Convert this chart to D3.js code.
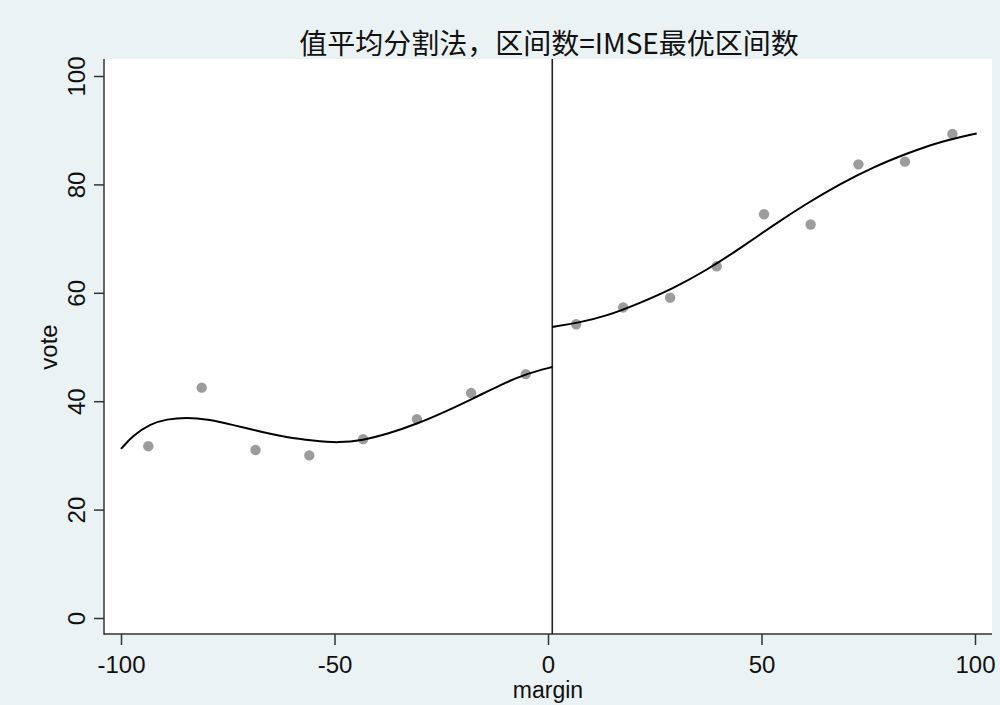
<!DOCTYPE html>
<html>
<head>
<meta charset="utf-8">
<script src="https://cdn.jsdelivr.net/npm/d3@7"></script>
<style>
  body { margin: 0; background: #eaf2f3; }
  svg { display: block; }
</style>
</head>
<body>
<div id="chart"><svg></svg></div>
<script>
const width = 1000;
const height = 705;

// chart values
const title = "值平均分割法，区间数=IMSE最优区间数";
const xLabel = "margin";
const yLabel = "vote";
const xTicks = [-100, -50, 0, 50, 100];
const yTicks = [0, 20, 40, 60, 80, 100];
const cutoff = 1;

const leftBinX = [-93.6, -81.1, -68.5, -55.9, -43.3, -30.7, -18.0, -5.2];
const leftBinY = [31.7, 42.5, 31.0, 30.0, 33.0, 36.7, 41.5, 45.0];
const rightBinX = [6.6, 17.6, 28.6, 39.5, 50.6, 61.5, 72.7, 83.6, 94.7];
const rightBinY = [54.2, 57.3, 59.1, 64.9, 74.5, 72.6, 83.7, 84.2, 89.3];

const leftFitX = [-100, -97.3, -93.2, -89.3, -84.6, -79.9, -73.7, -67.4, -61.2, -55, -49, -43.3, -37.8, -30.7, -23.7, -17.5, -11.2, -5, 1];
const leftFitY = [31.2, 33.6, 35.8, 36.7, 37.0, 36.7, 35.6, 34.4, 33.3, 32.7, 32.3, 32.8, 33.9, 35.8, 38.2, 40.5, 43.0, 45.1, 46.3];
const rightFitX = [1, 6.7, 13.7, 21.5, 29.3, 37.2, 45, 52.8, 60.6, 68.4, 76.2, 84, 91.8, 100.4];
const rightFitY = [53.7, 54.4, 55.7, 58.1, 60.8, 64.2, 68.2, 72.5, 76.5, 80.1, 83.2, 85.7, 87.9, 89.4];

// plot region
const plot = {left: 104, right: 992, top: 59, bottom: 634};

let svg = d3.select("#chart").select("svg")
  .attr("width", width)
  .attr("height", height)
  .style("font-family", "'Liberation Sans', Arial, sans-serif");

svg.append("rect")
  .attr("width", width).attr("height", height)
  .attr("fill", "#eaf2f3");

svg.append("rect")
  .attr("x", plot.left).attr("y", plot.top)
  .attr("width", plot.right - plot.left)
  .attr("height", plot.bottom - plot.top)
  .attr("fill", "#ffffff");

let x = d3.scaleLinear().domain([-100, 100]).range([121, 975]);
let y = d3.scaleLinear().domain([0, 100]).range([618, 76]);

/* axes */
let xAxis = svg.append("g")
  .attr("transform", `translate(0,${plot.bottom})`)
  .call(d3.axisBottom(x).tickValues(xTicks).tickSize(11).tickFormat(d => String(d)));
xAxis.select(".domain").remove();
xAxis.selectAll("line").attr("stroke", "#333").attr("stroke-width", 1.5);
xAxis.selectAll("text")
  .attr("y", 39).attr("dy", null)
  .attr("fill", "#111")
  .style("font-size", "24px");

let yAxis = svg.append("g")
  .attr("transform", `translate(${plot.left},0)`)
  .call(d3.axisLeft(y).tickValues(yTicks).tickSize(10).tickFormat(d => String(d)));
yAxis.select(".domain").remove();
yAxis.selectAll("line").attr("stroke", "#333").attr("stroke-width", 1.5);
yAxis.selectAll("text")
  .attr("x", null).attr("dy", null)
  .attr("text-anchor", "middle")
  .attr("transform", "translate(-19,0) rotate(-90)")
  .attr("fill", "#111")
  .style("font-size", "24px");

svg.append("line")
  .attr("x1", plot.left).attr("x2", plot.left)
  .attr("y1", plot.top).attr("y2", plot.bottom + 0.75)
  .attr("stroke", "#333").attr("stroke-width", 1.5);
svg.append("line")
  .attr("x1", plot.left).attr("x2", plot.right)
  .attr("y1", plot.bottom).attr("y2", plot.bottom)
  .attr("stroke", "#333").attr("stroke-width", 1.5);

/* cutoff line */
svg.append("line")
  .attr("x1", x(cutoff)).attr("x2", x(cutoff))
  .attr("y1", plot.top).attr("y2", plot.bottom)
  .attr("stroke", "#222").attr("stroke-width", 1.6);

/* bin means */
let bins = leftBinX.map((d, i) => ({x: d, y: leftBinY[i]}))
  .concat(rightBinX.map((d, i) => ({x: d, y: rightBinY[i]})));
svg.append("g").selectAll("circle")
  .data(bins)
  .enter()
  .append("circle")
  .attr("cx", d => x(d.x))
  .attr("cy", d => y(d.y))
  .attr("r", 5.2)
  .attr("fill", "#9c9c9c");

/* polynomial fits */
let line = d3.line()
  .x(d => x(d[0]))
  .y(d => y(d[1]))
  .curve(d3.curveBasis);

[[leftFitX, leftFitY], [rightFitX, rightFitY]].forEach(([xs, ys]) => {
  svg.append("path")
    .datum(xs.map((d, i) => [d, ys[i]]))
    .attr("d", line)
    .attr("fill", "none")
    .attr("stroke", "#000")
    .attr("stroke-width", 2);
});

/* labels */
svg.append("text")
  .attr("x", 549).attr("y", 54)
  .attr("text-anchor", "middle")
  .style("font-family", "'Noto Sans CJK SC', sans-serif")
  .style("font-size", "28px")
  .attr("fill", "#111")
  .text(title);

svg.append("text")
  .attr("x", 548).attr("y", 698)
  .attr("text-anchor", "middle")
  .style("font-size", "23px")
  .attr("fill", "#111")
  .text(xLabel);

svg.append("text")
  .attr("transform", "translate(57,347) rotate(-90)")
  .attr("text-anchor", "middle")
  .style("font-size", "24px")
  .attr("fill", "#111")
  .text(yLabel);
</script>
</body>
</html>
